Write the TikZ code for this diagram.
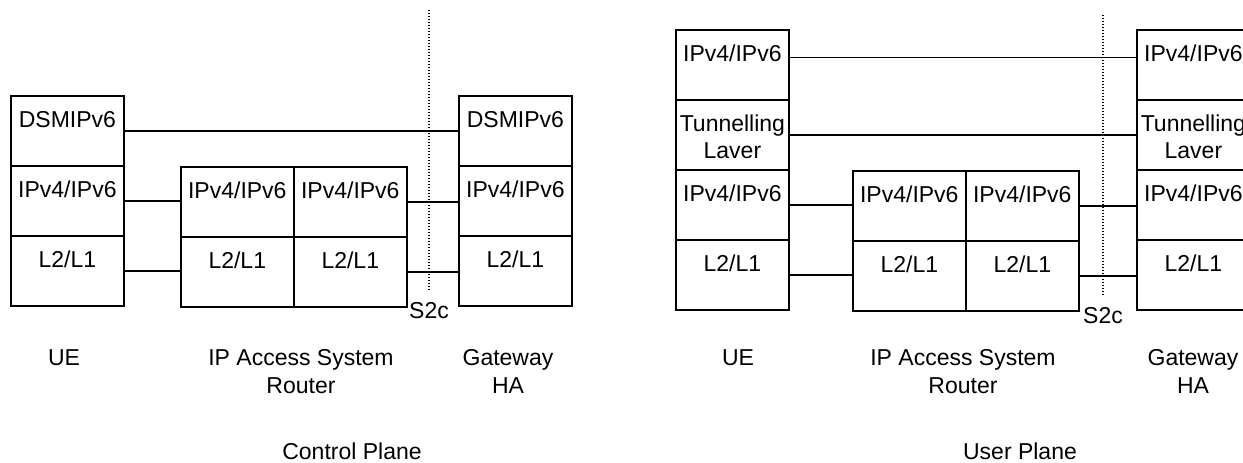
\documentclass[tikz,border=0pt]{standalone}
\usepackage{fontspec}
\setmainfont{Liberation Sans}
\usetikzlibrary{matrix,positioning}
\tikzset{
  stack/.style={matrix of nodes, inner sep=0pt, outer sep=0pt, line width=0.9pt,
    nodes={draw, anchor=center, minimum width=#1, minimum height=35pt,
           inner sep=0pt, text height=16pt, text depth=19pt},
    row sep=-\pgflinewidth, column sep=-\pgflinewidth},
  stack/.default=56.5pt,
  link/.style={line width=0.9pt},
}
\newcommand{\twoline}[2]{\begin{tabular}[t]{@{}c@{}}#1\\#2\end{tabular}}

\begin{document}
\begin{tikzpicture}[x=0.5pt, y=-0.5pt,
  font=\fontsize{11.5}{13.5}\selectfont,
  caption/.style={align=center, anchor=north, inner sep=0pt,
    font=\fontsize{11.5}{14}\selectfont},
  refpt/.style={line width=0.6pt, dash pattern=on 0.6pt off 0.9pt}]

\useasboundingbox (0,0) rectangle (1243,462);

% ---- control plane ----
\matrix[stack, anchor=north west] (cue) at (10,95)
  { DSMIPv6 \\ IPv4/IPv6 \\ L2/L1 \\ };
\matrix[stack, right=28pt of cue-2-1.north east, anchor=north west] (crt)
  { IPv4/IPv6 & IPv4/IPv6 \\ L2/L1 & L2/L1 \\ };
\matrix[stack, anchor=north west] (cgw) at (458,95)
  { DSMIPv6 \\ IPv4/IPv6 \\ L2/L1 \\ };

\draw[link] (cue-1-1.east) -- (cue-1-1.east -| cgw-1-1.west);
\draw[link] (cue-2-1.east) -- (cue-2-1.east -| crt-1-1.west);
\draw[link] (cue-3-1.east) -- (cue-3-1.east -| crt-2-1.west);
\draw[link] (crt-1-2.east) -- (crt-1-2.east -| cgw-2-1.west);
\draw[link] (crt-2-2.east) -- (crt-2-2.east -| cgw-3-1.west);

\coordinate (cs2top) at (429,10);
\node[caption] (cs2c) at (429,302) {S2c};
\draw[refpt] (cs2top) -- ([yshift=6pt]cs2c.north);

\node[caption] (cuelbl) at (64,349) {UE};
\node[caption] (crtlbl) at (301,349) {IP Access System\\Router};
\node[caption] (cgwlbl) at (508,349) {Gateway\\HA};
\node[caption] (cplane) at (352,442) {Control Plane};

% ---- user plane ----
\matrix[stack, anchor=north west] (uue) at (675,29)
  { IPv4/IPv6 \\ \twoline{Tunnelling}{Laver} \\ IPv4/IPv6 \\ L2/L1 \\ };
\matrix[stack, right=31.5pt of uue-3-1.north east, anchor=north west] (urt)
  { IPv4/IPv6 & IPv4/IPv6 \\ L2/L1 & L2/L1 \\ };
\matrix[stack, anchor=north west] (ugw) at (1136,29)
  { IPv4/IPv6 \\ \twoline{Tunnelling}{Laver} \\ IPv4/IPv6 \\ L2/L1 \\ };

\draw[link] ([yshift=3.75pt]uue-1-1.east) -- ([yshift=3.75pt]uue-1-1.east -| ugw-1-1.west);
\draw[link] (uue-2-1.east) -- (uue-2-1.east -| ugw-2-1.west);
\draw[link] (uue-3-1.east) -- (uue-3-1.east -| urt-1-1.west);
\draw[link] (uue-4-1.east) -- (uue-4-1.east -| urt-2-1.west);
\draw[link] (urt-1-2.east) -- (urt-1-2.east -| ugw-3-1.west);
\draw[link] (urt-2-2.east) -- (urt-2-2.east -| ugw-4-1.west);

\coordinate (us2top) at (1103,15);
\node[caption] (us2c) at (1103,307) {S2c};
\draw[refpt] (us2top) -- ([yshift=5.5pt]us2c.north);

\node[caption] (uuelbl) at (738,349) {UE};
\node[caption] (urtlbl) at (963,349) {IP Access System\\Router};
\node[caption] (ugwlbl) at (1193,349) {Gateway\\HA};
\node[caption] (uplane) at (1020,442) {User Plane};

\end{tikzpicture}
\end{document}
